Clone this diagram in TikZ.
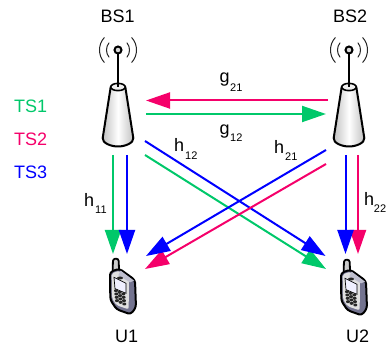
\documentclass[tikz,border=0pt]{standalone}
\usepackage{fontspec}
\setmainfont{Liberation Sans}
\usetikzlibrary{arrows.meta}
\definecolor{tsgreen}{HTML}{00C86A}
\definecolor{tsred}{HTML}{F5006A}
\definecolor{tsblue}{HTML}{0000FF}
\tikzset{
  lbl/.style={inner sep=0pt,anchor=base west,font=\fontsize{18}{18}\selectfont},
  sublbl/.style={inner sep=0pt,anchor=base west,font=\fontsize{11}{11}\selectfont},
  link/.style={line width=2pt,-{Triangle[length=24pt,width=16pt]}},
  outl/.style={draw=black,line width=2pt,line join=round},
  wave/.style={draw=black!85,line width=1pt,line cap=round}
}
\newcommand{\stationdraw}[1]{%
  \begin{scope}[shift={(#1,0)}]
    \draw[outl,left color=black!25,right color=black!25,middle color=white]
      (-7.3,87) -- (-15.3,138) .. controls (-16,143) and (-7,146.5) .. (0,146.5)
      .. controls (7,146.5) and (16,143) .. (15.3,138) -- (7.3,87) -- cycle;
    \draw[outl,line width=1.6pt,fill=black!6] (0,87) ellipse[x radius=7.3pt,y radius=3.6pt];
    \draw[black,line width=2pt] (0,54) -- (0,87);
    \draw[black,line width=2pt,fill=black!15] (0,50) circle[radius=3.5pt];
    \foreach \rr/\aa in {11.5/38,18.5/42}{
      \draw[wave] (0,50)+(-\aa:\rr pt) arc[start angle=-\aa,end angle=\aa,radius=\rr pt];
      \draw[wave] (0,50)+(180-\aa:\rr pt) arc[start angle=180-\aa,end angle=180+\aa,radius=\rr pt];
    }
  \end{scope}}
\newcommand{\phonedraw}[2]{%
  \begin{scope}[shift={(#1,#2)},x=0.3333pt,y=-0.3333pt]
    \draw[black,line width=1.8pt,fill=black!20,rounded corners=2.5pt]
      (98,155) -- (99,116) -- (116,116) -- (117,150);
    \draw[outl,fill=blue!20!black!55,rounded corners=3pt]
      (90,156) -- (118,146) -- (165,180) -- (168,262) -- (152,283) -- (110,268) -- (91,240) -- cycle;
    \fill[black!12,rounded corners=2pt]
      (95,160) -- (119,152) -- (147,176) -- (146,268) -- (110,256) -- (96,235) -- cycle;
    \fill[blue!25!black!25] (122,152) -- (162,182) -- (150,187) -- (115,166) -- cycle;
    \draw[black,line width=0.7pt,fill=blue!6] (102,172) -- (138,190) -- (138,220) -- (105,206) -- cycle;
    \foreach \i in {0,1,2,3}{\foreach \j in {0,1,2}{
      \fill[black!85] ({108+\j*11+\i*1},{212+\j*5+\i*10}) ellipse[x radius=2pt,y radius=1.5pt];
    }}
    \fill[black!85] (120,174) ellipse[x radius=3pt,y radius=1.5pt];
  \end{scope}}
\begin{document}
\begin{tikzpicture}[x=1pt,y=-1pt]
\useasboundingbox (0,0) rectangle (386,347);
\stationdraw{118}
\stationdraw{349}
\phonedraw{80}{220}
\phonedraw{311}{221}
% end points
\coordinate (gaS) at (328,100.5); \coordinate (gaE) at (146,100.5);
\coordinate (gbS) at (146,114);   \coordinate (gbE) at (326,114);
\coordinate (h11S) at (113,155);  \coordinate (h11E) at (113,254);
\coordinate (h1bS) at (127,155);  \coordinate (h1bE) at (127,254);
\coordinate (h2bS) at (345.5,155);\coordinate (h2bE) at (345.5,254);
\coordinate (h22S) at (358,155);  \coordinate (h22E) at (358,254);
\coordinate (d1S) at (145,141);   \coordinate (d1E) at (325.5,256);
\coordinate (d2S) at (145,155);   \coordinate (d2E) at (326,269);
\coordinate (d3S) at (326,150);   \coordinate (d3E) at (146,256);
\coordinate (d4S) at (326,164);   \coordinate (d4E) at (145,269);
% links
\draw[link,tsred] (h22S) -- (h22E);
\draw[link,tsblue] (h2bS) -- (h2bE);
\draw[link,tsgreen] (h11S) -- (h11E);
\draw[link,tsblue] (h1bS) -- (h1bE);
\draw[link,tsgreen] (d2S) -- (d2E);
\draw[link,tsblue] (d1S) -- (d1E);
\draw[link,tsred] (d4S) -- (d4E);
\draw[link,tsblue] (d3S) -- (d3E);
\draw[link,tsred] (gaS) -- (gaE);
\draw[link,tsgreen] (gbS) -- (gbE);
% labels
\node[lbl] (bs1) at (100.5,23) {BS1};
\node[lbl] (bs2) at (333,23) {BS2};
\node[lbl] (u1) at (115,343) {U1};
\node[lbl] (u2) at (346,343) {U2};
\node[lbl,text=tsgreen] (ts1) at (14,113) {TS1};
\node[lbl,text=tsred] (ts2) at (14,146) {TS2};
\node[lbl,text=tsblue] (ts3) at (14,179) {TS3};
\node[lbl] (h11) at (84,206.5) {h}; \node[sublbl] (h11s) at (95,214) {11};
\node[lbl] (h12) at (174,152) {h}; \node[sublbl] (h12s) at (185,160) {12};
\node[lbl] (h21) at (274,154) {h}; \node[sublbl] (h21s) at (285,161) {21};
\node[lbl] (h22) at (364,206) {h}; \node[sublbl] (h22s) at (373.7,213) {22};
\node[lbl] (g21) at (219.5,83) {g}; \node[sublbl] (g21s) at (230,92) {21};
\node[lbl] (g12) at (219.5,135) {g}; \node[sublbl] (g12s) at (230,142) {12};
\end{tikzpicture}
\end{document}
